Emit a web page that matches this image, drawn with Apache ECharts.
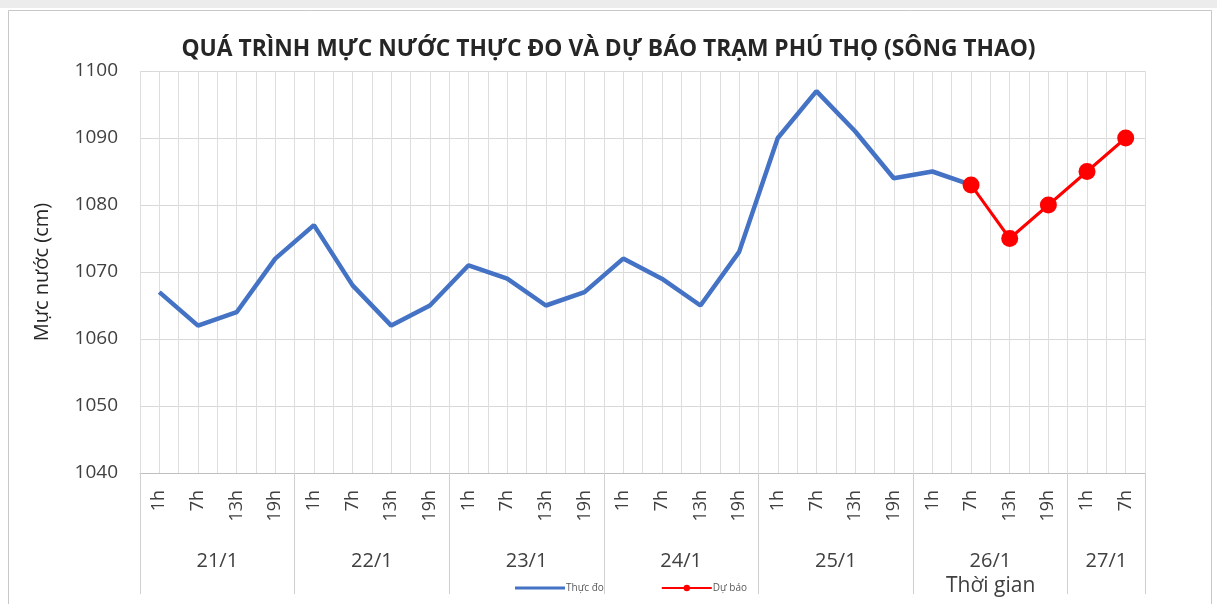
<!DOCTYPE html>
<html>
<head>
<meta charset="utf-8">
<script src="https://cdn.jsdelivr.net/npm/echarts@6/dist/echarts.min.js"></script>
<style>
html,body{margin:0;padding:0;background:#fff;}
#c{width:1217px;height:604px;}
</style>
</head>
<body>
<div id="c"></div>
<script>
const days = ['21/1','22/1','23/1','24/1','25/1','26/1','27/1'];
const slotsPerDay = [4,4,4,4,4,4,2];
const hourNames = ['1h','7h','13h','19h'];
const measured = [1067,1062,1064,1072, 1077,1068,1062,1065, 1071,1069,1065,1067, 1072,1069,1065,1073, 1090,1097,1091,1084, 1085,1083,null,null, null,null];
const forecast = [null,null,null,null, null,null,null,null, null,null,null,null, null,null,null,null, null,null,null,null, null,1083,1075,1080, 1085,1090];
const yTicks = [1040,1050,1060,1070,1080,1090,1100];

const hourCats = [];
days.forEach((d,i)=>{ for(let k=0;k<slotsPerDay[i];k++) hourCats.push(hourNames[k]); });
const n = hourCats.length;
const boundaryLabels = new Array(n+1).fill('');
const boundaryTickIdx = new Set([0]);
let pos = 0;
days.forEach((d,i)=>{
  const w = slotsPerDay[i];
  boundaryLabels[pos + w/2] = d;
  pos += w;
  boundaryTickIdx.add(pos);
});

const chart = echarts.init(document.getElementById('c'));
const FONT = '"Open Sans", "Noto Sans", sans-serif';
chart.setOption({
  animation:false,
  backgroundColor:'#fff',
  title:{
    text:'QUÁ TRÌNH MỰC NƯỚC THỰC ĐO VÀ DỰ BÁO TRẠM PHÚ THỌ (SÔNG THAO)',
    left:'center', top:33,
    textStyle:{fontFamily:FONT, fontWeight:'bold', fontSize:22.8, color:'#262626'}
  },
  legend:{
    left:515, top:583, padding:0, itemWidth:50, itemHeight:8, itemGap:57,
    textStyle:{fontFamily:FONT, fontSize:10, color:'#595959', padding:[0,0,0,-4]},
    data:[{name:'Thực đo', icon:'path://M0,0h50v3h-50z', itemStyle:{color:'#4472C4'}}, 'Dự báo']
  },
  grid:{left:140, right:72, top:71, bottom:131},
  xAxis:[
    {
      type:'category', data:hourCats, boundaryGap:true, position:'bottom',
      axisLine:{show:true, lineStyle:{color:'#bfbfbf', width:1}},
      axisTick:{show:false},
      axisLabel:{rotate:90, interval:0, margin:17, fontSize:18, fontFamily:FONT, color:'#404040'},
      splitLine:{show:false}
    },
    {
      type:'category', data:boundaryLabels, boundaryGap:false, position:'bottom',
      axisLine:{show:false},
      axisTick:{show:true, length:121, interval:(i)=>boundaryTickIdx.has(i), lineStyle:{color:'#d0d0d0'}},
      axisLabel:{show:true, interval:(i,v)=>v!=='' , margin:78, fontSize:20, fontFamily:FONT, color:'#404040'},
      splitLine:{show:false}
    },
    {
      type:'value', min:0, max:2*n, interval:1, position:'top',
      axisLine:{show:false}, axisTick:{show:false}, axisLabel:{show:false},
      splitLine:{show:true, lineStyle:{color:'#dedede', width:1}}
    }
  ],
  yAxis:{
    type:'value', min:yTicks[0], max:yTicks[yTicks.length-1], interval:yTicks[1]-yTicks[0],
    name:'Mực nước (cm)', nameLocation:'middle', nameGap:88,
    nameTextStyle:{fontFamily:FONT, fontSize:20, color:'#262626'},
    axisLine:{show:false}, axisTick:{show:false},
    axisLabel:{margin:22, fontSize:19, fontFamily:FONT, color:'#404040', formatter:(v)=>String(v)},
    splitLine:{show:true, lineStyle:{color:'#d9d9d9', width:1}}
  },
  series:[
    {name:'Thực đo', type:'line', xAxisIndex:0, data:measured, showSymbol:false, symbol:'none',
     lineStyle:{color:'#4472C4', width:4.5}, itemStyle:{color:'#4472C4'}, z:3},
    {name:'Dự báo', type:'line', xAxisIndex:0, data:forecast, symbol:'circle', symbolSize:17,
     lineStyle:{color:'#FF0000', width:3}, itemStyle:{color:'#FF0000'}, z:4}
  ],
  graphic:[
    {type:'rect', shape:{x:0,y:0,width:1217,height:8}, style:{fill:'#ececec'}, silent:true},
    {type:'rect', shape:{x:8.5,y:10.5,width:1203,height:600}, style:{fill:'none', stroke:'#c8c8c8', lineWidth:1}, silent:true},
    {type:'text', left:946, top:576, style:{text:'Thời gian', font:'21px "Open Sans", "Noto Sans", sans-serif', fill:'#404040'}}
  ]
});
</script>
</body>
</html>
